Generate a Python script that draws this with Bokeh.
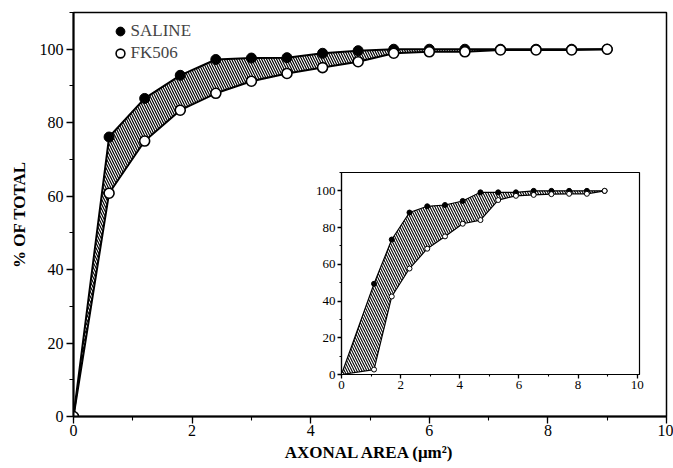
from bokeh.plotting import figure
from bokeh.models import Range1d, Legend, LegendItem, SingleIntervalTicker
from bokeh.core.properties import value
from bokeh.embed import file_html
from bokeh.resources import INLINE

# ---- data ----
main_x = [0, 0.6, 1.2, 1.8, 2.4, 3.0, 3.6, 4.2, 4.8, 5.4, 6.0, 6.6, 7.2, 7.8, 8.4, 9.0]
saline_main = [0, 76.1, 86.6, 92.9, 97.2, 97.6, 97.7, 98.9, 99.6, 100, 100, 100, 100, 100, 100, 100]
fk506_main = [0, 60.8, 75.0, 83.4, 88.0, 91.3, 93.4, 95.0, 96.6, 98.9, 99.3, 99.3, 99.8, 99.8, 99.8, 100]

inset_x = [0, 1.1, 1.7, 2.3, 2.9, 3.5, 4.1, 4.7, 5.3, 5.9, 6.5, 7.1, 7.7, 8.3, 8.9]
saline_inset = [0, 49.4, 73.5, 88.2, 91.6, 92.3, 94.5, 99.2, 99.2, 99.2, 100, 100, 100, 100, 100]
fk506_inset = [0, 2.7, 42.5, 57.7, 68.5, 75.2, 82.1, 84.1, 95.0, 97.3, 97.8, 98.2, 98.4, 98.4, 100]

series_labels = ["SALINE", "FK506"]
x_title = "AXONAL AREA (\u03bcm\u00b2)"
y_title = "% OF TOTAL"

SERIF = "Liberation Serif"


def style_axes(fig, tick_size, tick_out, minor_out, axis_w):
    for ax in list(fig.xaxis) + list(fig.yaxis):
        ax.axis_line_color = "black"
        ax.axis_line_width = axis_w
        ax.major_tick_line_color = "black"
        ax.minor_tick_line_color = "black"
        ax.major_tick_line_width = 1.3
        ax.minor_tick_line_width = 1.1
        ax.major_tick_in = 0
        ax.major_tick_out = tick_out
        ax.minor_tick_in = 0
        ax.minor_tick_out = minor_out
        ax.major_label_text_font = SERIF
        ax.major_label_text_font_size = tick_size
        ax.major_label_text_color = "black"


# ---- main figure ----
p = figure(width=673, height=468, output_backend="svg", toolbar_location=None,
           x_range=Range1d(0, 10), y_range=Range1d(0, 110),
           min_border_left=73, min_border_right=7, min_border_top=12, min_border_bottom=52)
p.background_fill_color = "white"
p.border_fill_color = "white"
p.outline_line_color = "black"
p.outline_line_width = 1.5
p.grid.visible = False

p.varea(x=main_x, y1=fk506_main, y2=saline_main, fill_color=None,
        hatch_pattern="\\", hatch_color="black", hatch_scale=5, hatch_weight=1.2)
p.line(main_x, saline_main, line_color="black", line_width=2)
p.line(main_x, fk506_main, line_color="black", line_width=2)
sal_r = p.scatter(main_x, saline_main, size=10, fill_color="black", line_color="black")
fk_r = p.scatter(main_x, fk506_main, size=10, fill_color="white", line_color="black", line_width=1.6)

p.xaxis.ticker = SingleIntervalTicker(interval=2, num_minor_ticks=2)
p.yaxis.ticker = SingleIntervalTicker(interval=20, num_minor_ticks=2)
style_axes(p, "16px", 7, 4, 2)
p.xaxis.axis_label = x_title
p.yaxis.axis_label = y_title
for ax in list(p.xaxis) + list(p.yaxis):
    ax.axis_label_text_font = SERIF
    ax.axis_label_text_font_style = "bold"
    ax.axis_label_text_font_size = "17px"
    ax.axis_label_text_color = "black"
p.xaxis.major_label_standoff = 1
p.xaxis.axis_label_standoff = 4
p.yaxis.major_label_standoff = 3
p.yaxis.axis_label_standoff = 8

legend = Legend(items=[LegendItem(label=value(series_labels[0]), renderers=[sal_r]),
                       LegendItem(label=value(series_labels[1]), renderers=[fk_r])],
                location=(35.6, 352), padding=0, spacing=0, margin=0,
                glyph_width=22, glyph_height=22, label_height=22, label_standoff=0,
                label_text_font=SERIF, label_text_font_size="17px",
                border_line_color=None, background_fill_alpha=0)
p.add_layout(legend)

# ---- inset figure (floated over the main one) ----
ins = figure(width=339, height=229, output_backend="svg", toolbar_location=None,
             x_range=Range1d(0, 10.08), y_range=Range1d(0, 110),
             min_border_left=33, min_border_right=8, min_border_top=5, min_border_bottom=22,
             styles={"position": "absolute", "left": "308px", "top": "167px", "z-index": "10"})
ins.background_fill_color = "white"
ins.border_fill_color = None
ins.outline_line_color = "black"
ins.outline_line_width = 1.2
ins.grid.visible = False

ins.varea(x=inset_x, y1=fk506_inset, y2=saline_inset, fill_color=None,
          hatch_pattern="\\", hatch_color="black", hatch_scale=5, hatch_weight=1.1)
ins.line(inset_x, saline_inset, line_color="black", line_width=1.2)
ins.line(inset_x, fk506_inset, line_color="black", line_width=1.2)
ins.scatter(inset_x, saline_inset, size=5, fill_color="black", line_color="black")
ins.scatter(inset_x, fk506_inset, size=5, fill_color="white", line_color="black", line_width=1)

ins.xaxis.ticker = SingleIntervalTicker(interval=2, num_minor_ticks=2)
ins.yaxis.ticker = SingleIntervalTicker(interval=20, num_minor_ticks=2)
style_axes(ins, "13px", 4, 2, 1.2)
ins.xaxis.major_label_standoff = 2
ins.yaxis.major_label_standoff = 2

open("out.html", "w").write(file_html([p, ins], INLINE))
